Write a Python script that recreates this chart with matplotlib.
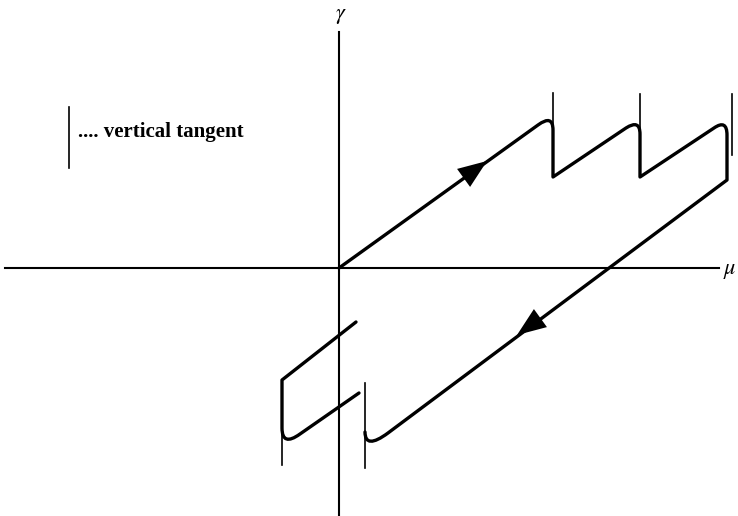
import matplotlib.pyplot as plt
from matplotlib.path import Path
from matplotlib.patches import PathPatch

plt.rcParams['mathtext.fontset'] = 'stix'

# upper branch: loading line with three snap-back humps, then the long unloading line
upper_pts = [(0, 0), (199, 143), (214, 154), (214, 138), (214, 91),
             (287, 140), (301, 149), (301, 134), (301, 91),
             (375, 140), (388, 149), (388, 133), (388, 88),
             (49, -165), (26, -182), (26, -164)]
upper_codes = [Path.MOVETO, Path.LINETO, Path.CURVE3, Path.CURVE3, Path.LINETO,
               Path.LINETO, Path.CURVE3, Path.CURVE3, Path.LINETO,
               Path.LINETO, Path.CURVE3, Path.CURVE3, Path.LINETO,
               Path.LINETO, Path.CURVE3, Path.CURVE3]

# lower-left branch crossing the gamma axis
lower_pts = [(17, -54), (-57, -112), (-57, -160), (-57, -179), (-39, -166), (20, -125)]
lower_codes = [Path.MOVETO, Path.LINETO, Path.LINETO, Path.CURVE3, Path.CURVE3, Path.LINETO]

# vertical tangents: (mu, gamma top, gamma bottom)
tangents = [(214, 175, 91), (301, 174, 91), (393, 174, 113),
            (26, -115, -200), (-57, -152, -197)]

# arrow heads: (tip, point behind tip along the line)
arrows = [((148, 107), (130, 94)), ((178, -67), (196, -54))]

fig = plt.figure(figsize=(7.38, 5.16), dpi=100)
ax = fig.add_axes([0, 0, 1, 1])
ax.set_xlim(-339, 399)
ax.set_ylim(-248, 268)
ax.axis('off')

# coordinate axes
ax.plot([-334, 380], [0, 0], color='black', lw=1.5)
ax.plot([0, 0], [236, -248], color='black', lw=1.5)
ax.text(2, 252, r'$\gamma$', fontsize=16, ha='center', va='center')
ax.text(391, -3, r'$\mu$', fontsize=16, ha='center', va='center')

for pts, codes in [(upper_pts, upper_codes), (lower_pts, lower_codes)]:
    ax.add_patch(PathPatch(Path(pts, codes), facecolor='none', edgecolor='black',
                           lw=2.4, capstyle='round', joinstyle='round'))

for mu, g0, g1 in tangents:
    ax.plot([mu, mu], [g0, g1], color='black', lw=1.2)

for tip, tail in arrows:
    ax.annotate('', xy=tip, xytext=tail,
                arrowprops=dict(arrowstyle='-|>,head_length=1.3,head_width=0.5',
                                color='black', lw=0, shrinkA=0, shrinkB=0,
                                mutation_scale=16))

# legend entry
ax.plot([-270, -270], [161, 100], color='black', lw=1.2)
ax.text(-261, 136, '.... vertical tangent', fontsize=15, family='Liberation Serif',
        fontweight='bold', ha='left', va='center')

fig.savefig('out.png', dpi=100)
